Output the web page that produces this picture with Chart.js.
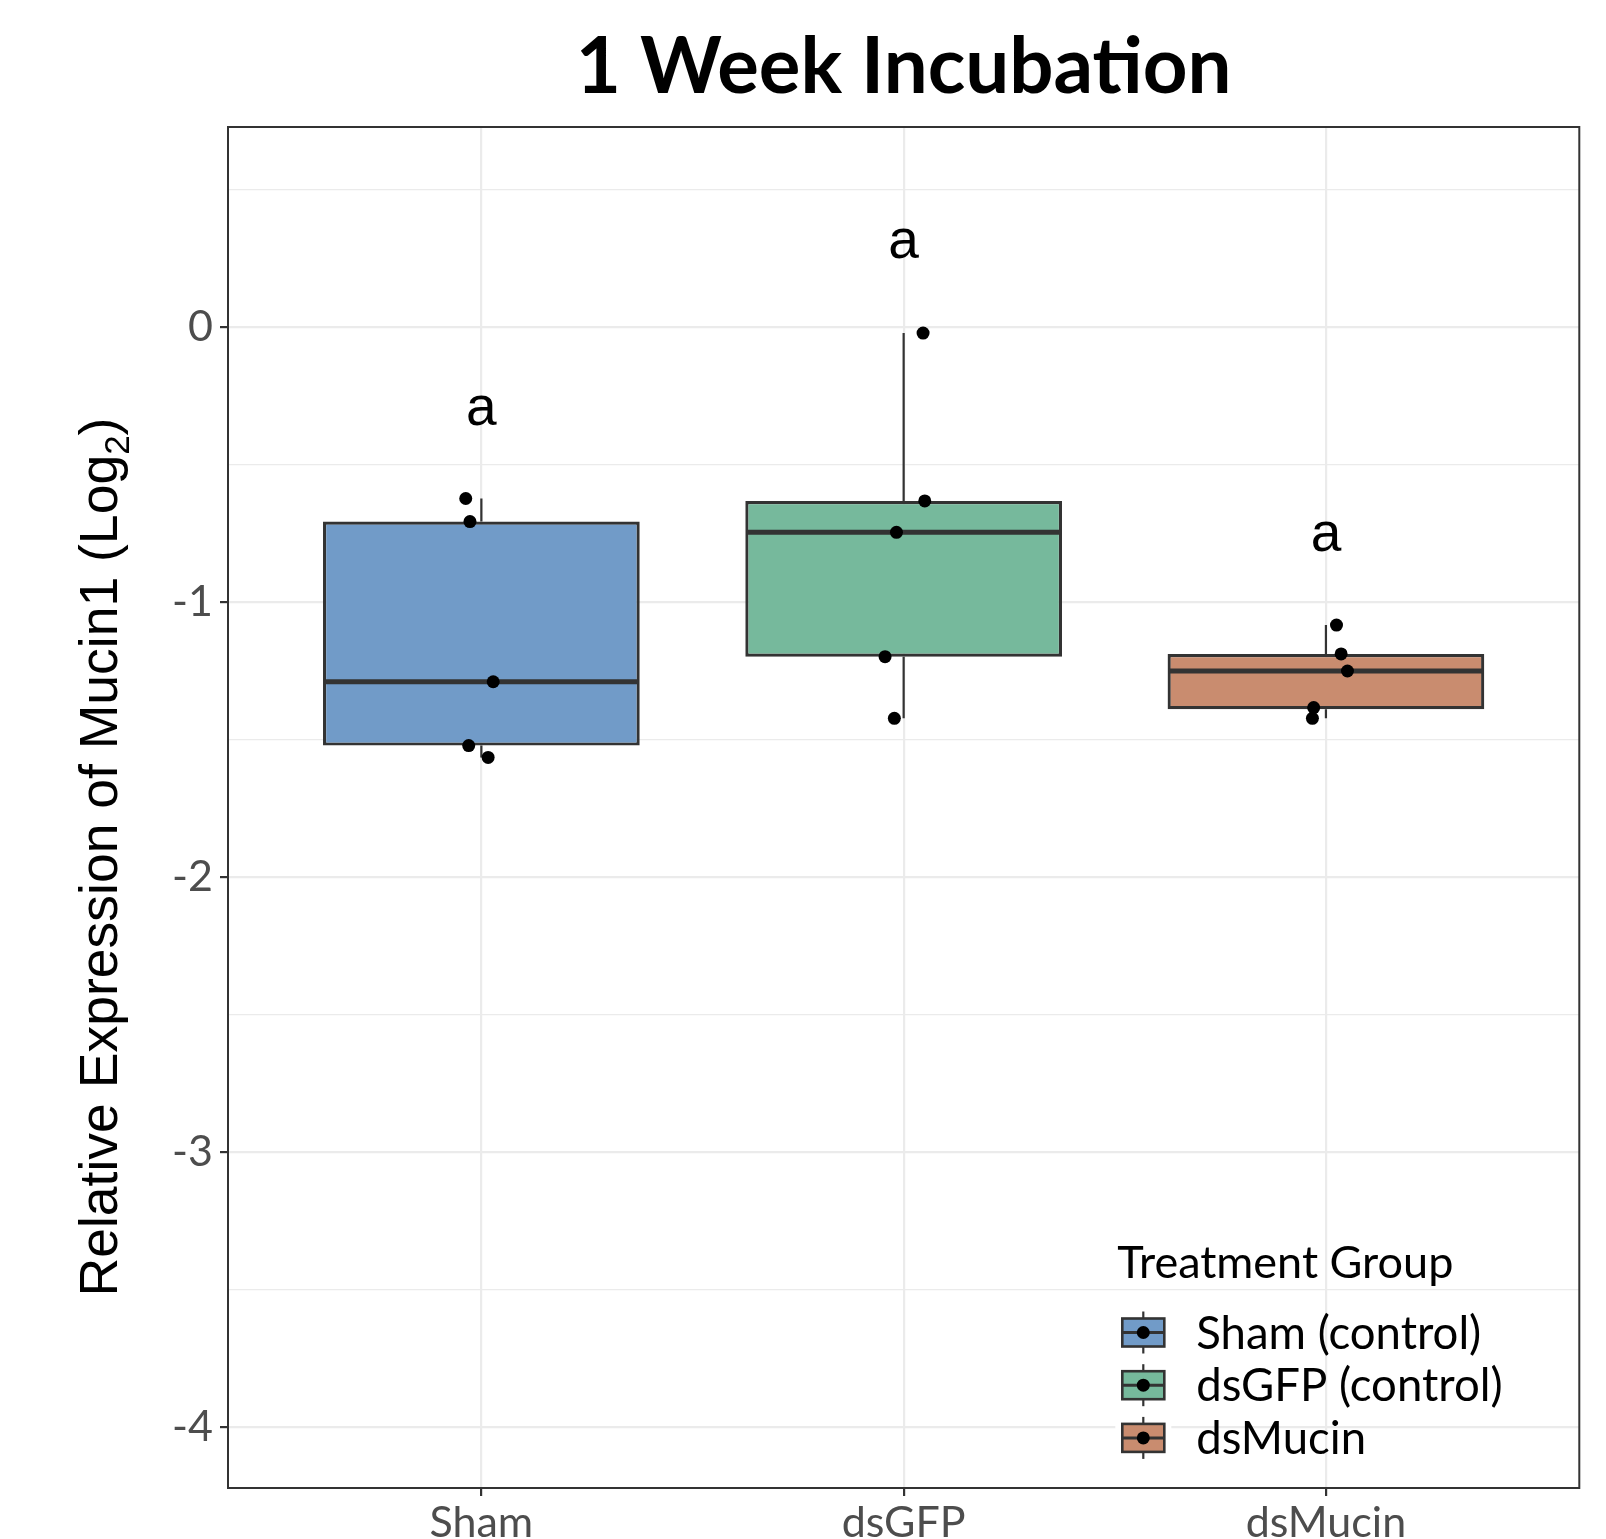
<!DOCTYPE html>
<html>
<head>
<meta charset="utf-8">
<title>1 Week Incubation</title>
<script src="https://cdn.jsdelivr.net/npm/chart.js@4.4.1/dist/chart.umd.min.js"></script>
<style>
  html, body { margin: 0; padding: 0; background: #fff; }
  #wrap { width: 1606px; height: 1539px; }
</style>
</head>
<body>
<div id="wrap"><canvas id="boxChart" width="1606" height="1539"></canvas></div>
<script>
// groups and legend
const categories = ['Sham', 'dsGFP', 'dsMucin'];
const legendLabels = ['Sham (control)', 'dsGFP (control)', 'dsMucin'];
const boxColors = ['#719BC8', '#76B99C', '#C98C6F'];

// box statistics
const whiskerLow = [-1.565, -1.423, -1.423];
const q1 = [-1.522, -1.199, -1.390];
const medians = [-1.290, -0.747, -1.251];
const q3 = [-0.708, -0.633, -1.189];
const whiskerHigh = [-0.624, -0.023, -1.084];

// individual samples and their horizontal jitter (in category units)
const shamPoints = [-0.624, -0.708, -1.290, -1.522, -1.565];
const shamJitter = [-0.037, -0.027, 0.028, -0.030, 0.016];
const gfpPoints = [-0.023, -0.633, -0.747, -1.199, -1.423];
const gfpJitter = [0.046, 0.050, -0.017, -0.044, -0.022];
const mucinPoints = [-1.084, -1.189, -1.251, -1.384, -1.423];
const mucinJitter = [0.025, 0.036, 0.051, -0.029, -0.032];

// significance letters
const letters = ['a', 'a', 'a'];
const letterY = [-0.306, 0.302, -0.761];

// y axis
const yTicks = [-4, -3.5, -3, -2.5, -2, -1.5, -1, -0.5, 0, 0.5];
const yMin = -4.22;
const yMax = 0.726;

const TICK_FONT = { family: 'Lato', size: 43, lineHeight: 1.0 };
const TICK_COLOR = '#4D4D4D';
const DARK = '#333333';
const GRID = '#EBEBEB';

const groups = [
  { values: shamPoints, jitter: shamJitter },
  { values: gfpPoints, jitter: gfpJitter },
  { values: mucinPoints, jitter: mucinJitter },
];

const pointData = [];
groups.forEach((g, i) => {
  g.values.forEach((v, j) => {
    pointData.push({ x: i + 1 + g.jitter[j], y: v });
  });
});

const boxData = categories.map((c, i) => ({ x: i + 1, y: [q1[i], q3[i]] }));

const boxPlotExtras = {
  id: 'boxPlotExtras',
  afterDatasetDraw(chart, args) {
    if (args.meta.type !== 'bar') {
      return;
    }
    const ctx = chart.ctx;
    const y = chart.scales.y;
    ctx.save();
    ctx.strokeStyle = DARK;
    args.meta.data.forEach((bar, i) => {
      const x = bar.x;
      const half = bar.width / 2;
      ctx.lineWidth = 2.2;
      ctx.beginPath();
      ctx.moveTo(x, y.getPixelForValue(q3[i]));
      ctx.lineTo(x, y.getPixelForValue(whiskerHigh[i]));
      ctx.moveTo(x, y.getPixelForValue(q1[i]));
      ctx.lineTo(x, y.getPixelForValue(whiskerLow[i]));
      ctx.stroke();
      const my = y.getPixelForValue(medians[i]);
      ctx.lineWidth = 5;
      ctx.beginPath();
      ctx.moveTo(x - half + 1, my);
      ctx.lineTo(x + half - 1, my);
      ctx.stroke();
    });
    ctx.restore();
  },
  afterDatasetsDraw(chart) {
    const { ctx, chartArea } = chart;
    ctx.save();
    ctx.strokeStyle = DARK;
    ctx.lineWidth = 2;
    ctx.strokeRect(chartArea.left, chartArea.top,
      chartArea.right - chartArea.left, chartArea.bottom - chartArea.top);
    ctx.restore();
  },
  afterDraw(chart) {
    const { ctx, chartArea } = chart;
    const xs = chart.scales.x;
    const ys = chart.scales.y;

    // letters above each box
    ctx.save();
    ctx.fillStyle = '#000';
    ctx.font = '55px "Liberation Sans"';
    ctx.textAlign = 'center';
    ctx.textBaseline = 'alphabetic';
    letters.forEach((t, i) => {
      ctx.fillText(t, xs.getPixelForValue(i + 1), ys.getPixelForValue(letterY[i]) + 14.5);
    });
    ctx.restore();

    // y axis title with subscript
    const mainFont = '53.5px "Liberation Sans"';
    const subFont = '35px "Liberation Sans"';
    const mainText = 'Relative Expression of Mucin1 (Log';
    ctx.save();
    ctx.fillStyle = '#000';
    ctx.translate(117, 857);
    ctx.rotate(-Math.PI / 2);
    ctx.textAlign = 'left';
    ctx.textBaseline = 'alphabetic';
    ctx.font = mainFont;
    const w1 = ctx.measureText(mainText).width;
    const w3 = ctx.measureText(')').width;
    ctx.font = subFont;
    const w2 = ctx.measureText('2').width;
    let cx = -(w1 + w2 + w3) / 2;
    ctx.font = mainFont;
    ctx.fillText(mainText, cx, 0);
    cx += w1;
    ctx.font = subFont;
    ctx.fillText('2', cx, 12);
    cx += w2;
    ctx.font = mainFont;
    ctx.fillText(')', cx, 0);
    ctx.restore();

    // legend inside the panel, bottom right
    const lx = chartArea.right - 462;
    const titleBase = chartArea.bottom - 210;
    ctx.save();
    ctx.fillStyle = '#000';
    ctx.font = '45px Lato';
    ctx.textAlign = 'left';
    ctx.textBaseline = 'alphabetic';
    ctx.fillText('Treatment Group', lx, titleBase);
    legendLabels.forEach((label, i) => {
      const cy = titleBase + 54.5 + i * 52.7;
      const kx = lx + 26;
      ctx.fillStyle = '#fff';
      ctx.fillRect(kx - 28, cy - 26, 56, 52);
      ctx.strokeStyle = DARK;
      ctx.lineWidth = 2.2;
      ctx.beginPath();
      ctx.moveTo(kx, cy - 21);
      ctx.lineTo(kx, cy + 21);
      ctx.stroke();
      ctx.fillStyle = boxColors[i];
      ctx.fillRect(kx - 21, cy - 14, 42, 28);
      ctx.lineWidth = 2.6;
      ctx.strokeRect(kx - 21, cy - 14, 42, 28);
      ctx.lineWidth = 3;
      ctx.beginPath();
      ctx.moveTo(kx - 21, cy);
      ctx.lineTo(kx + 21, cy);
      ctx.stroke();
      ctx.fillStyle = '#000';
      ctx.beginPath();
      ctx.arc(kx, cy, 6.5, 0, Math.PI * 2);
      ctx.fill();
      ctx.font = '45.5px Lato';
      ctx.fillText(label, lx + 79, cy + 16);
    });
    ctx.restore();
  },
};

const chart = new Chart(document.getElementById('boxChart'), {
  type: 'bar',
  data: {
    datasets: [
      {
        type: 'scatter',
        label: 'samples',
        data: pointData,
        backgroundColor: '#000',
        borderWidth: 0,
        pointRadius: 6.5,
        order: 0,
      },
      {
        type: 'bar',
        label: 'boxes',
        data: boxData,
        backgroundColor: boxColors,
        borderColor: DARK,
        borderWidth: 3.2,
        borderSkipped: false,
        barPercentage: 0.75,
        categoryPercentage: 1.0,
        order: 1,
      },
    ],
  },
  options: {
    responsive: false,
    animation: false,
    events: [],
    layout: { padding: { top: 0, right: 26.7, bottom: 0, left: 0 } },
    plugins: {
      legend: { display: false },
      tooltip: { enabled: false },
      title: {
        display: true,
        text: '1 Week Incubation',
        fullSize: false,
        color: '#000',
        font: { family: 'Lato', size: 78, weight: 'bold', lineHeight: 1.2 },
        padding: { top: 21.5, bottom: 11.9 },
      },
    },
    scales: {
      x: {
        type: 'linear',
        min: 0.4,
        max: 3.6,
        offset: false,
        afterBuildTicks: scale => {
          scale.ticks = categories.map((c, i) => ({ value: i + 1 }));
        },
        afterFit: scale => {
          scale.height = 51;
        },
        grid: {
          color: GRID,
          lineWidth: 2.2,
          tickColor: DARK,
          tickLength: 8,
          tickWidth: 2.2,
          offset: false,
        },
        border: { display: false },
        ticks: {
          autoSkip: false,
          maxRotation: 0,
          padding: 6,
          color: TICK_COLOR,
          font: TICK_FONT,
          callback: v => categories[v - 1] ?? '',
        },
      },
      y: {
        type: 'linear',
        min: yMin,
        max: yMax,
        beginAtZero: false,
        afterBuildTicks: scale => {
          scale.ticks = yTicks.map(v => ({ value: v }));
        },
        afterFit: scale => {
          scale.width = 228;
        },
        grid: {
          color: GRID,
          lineWidth: ctx => (Number.isInteger(ctx.tick.value) ? 2.2 : 1.2),
          tickColor: ctx => (Number.isInteger(ctx.tick.value) ? DARK : 'rgba(0,0,0,0)'),
          tickLength: 8,
          tickWidth: 2.2,
        },
        border: { display: false },
        ticks: {
          autoSkip: false,
          padding: 7,
          color: TICK_COLOR,
          font: TICK_FONT,
          callback: v => (Number.isInteger(v) ? String(v) : ''),
        },
      },
    },
  },
  plugins: [boxPlotExtras],
});
</script>
</body>
</html>
